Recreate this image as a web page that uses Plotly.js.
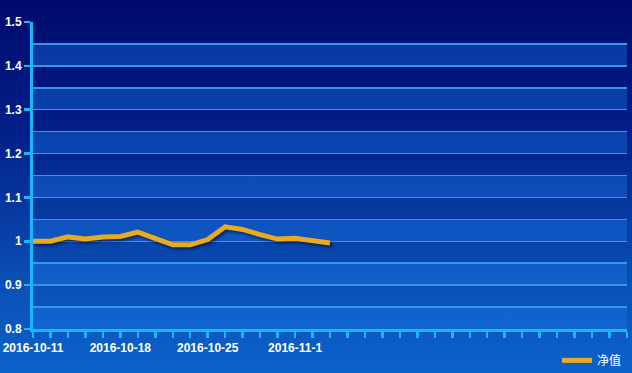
<!DOCTYPE html>
<html>
<head>
<meta charset="utf-8">
<script src="https://cdn.plot.ly/plotly-3.0.1.min.js"></script>
<style>
html,body{margin:0;padding:0;}
#chart{width:632px;height:373px;background:linear-gradient(to bottom,#000a6c 0%,#021f88 35%,#0a4fb5 75%,#0b62ca 100%);}
.scatterlayer .trace path.js-line{filter:drop-shadow(2px 2px 1.5px rgba(0,0,20,0.55));}
</style>
</head>
<body>
<div id="chart"></div>
<script>
// trading days on the axis (35 slots)
const dates = ["2016-10-11","2016-10-12","2016-10-13","2016-10-14","2016-10-17","2016-10-18","2016-10-19","2016-10-20","2016-10-21","2016-10-24","2016-10-25","2016-10-26","2016-10-27","2016-10-28","2016-10-31","2016-11-1","2016-11-2","2016-11-3","2016-11-4","2016-11-7","2016-11-8","2016-11-9","2016-11-10","2016-11-11","2016-11-14","2016-11-15","2016-11-16","2016-11-17","2016-11-18","2016-11-21","2016-11-22","2016-11-23","2016-11-24","2016-11-25","2016-11-28"];
const navValues = [1.000,1.000,1.010,1.005,1.010,1.011,1.021,1.006,0.992,0.992,1.004,1.033,1.027,1.015,1.005,1.007,1.002,0.996];
const labelDates = ["2016-10-11","2016-10-18","2016-10-25","2016-11-1"];
const seriesName = "净值";

const xIdx = navValues.map((v,i)=>i);
const tickvals = dates.map((d,i)=>i);
const ticktext = dates.map(d => labelDates.includes(d) ? d : "");

const shapes = [];
for (let k = 0; k < 7; k++) {
  const lo = 0.8 + k*0.1;
  shapes.push({type:'rect', xref:'paper', yref:'y', x0:0, x1:1, y0:lo, y1:lo+0.05,
    fillcolor:'rgba(25,120,235,0.38)', line:{width:0}, layer:'below'});
}

const trace = {
  x: xIdx, y: navValues, type:'scatter', mode:'lines', name: seriesName,
  line:{color:'#e9aa23', width:5, shape:'linear'}
};

const axisColor = '#1ab4ff';
const layout = {
  width:632, height:373,
  margin:{l:33, r:5, t:22, b:44, autoexpand:false},
  paper_bgcolor:'rgba(0,0,0,0)', plot_bgcolor:'rgba(0,0,0,0)',
  shapes: shapes,
  showlegend:true,
  legend:{orientation:'h', x:1, xanchor:'right', y:-0.055, yanchor:'top',
    font:{color:'#ffffff', size:12, family:'Noto Sans CJK SC, sans-serif'},
    bgcolor:'rgba(0,0,0,0)'},
  xaxis:{
    range:[0,34], tickmode:'array', tickvals:tickvals, ticktext:ticktext,
    showgrid:false, zeroline:false, automargin:false,
    showline:true, linecolor:axisColor, linewidth:3,
    ticks:'outside', ticklen:6, tickwidth:2.5, tickcolor:axisColor,
    tickangle:0,
    tickfont:{color:'#ffffff', size:12, family:'Liberation Sans, Arial, sans-serif', weight:'bold'},
    fixedrange:true
  },
  yaxis:{
    range:[0.8,1.5], dtick:0.1, tick0:0.8, automargin:false,
    showgrid:true, gridcolor:'#3a96ea', gridwidth:1.5,
    minor:{dtick:0.05, showgrid:true, gridcolor:'#3a96ea', gridwidth:1.5, ticks:''},
    zeroline:false,
    showline:true, linecolor:axisColor, linewidth:3,
    ticks:'outside', ticklen:6, tickwidth:2.5, tickcolor:axisColor,
    tickfont:{color:'#ffffff', size:12, family:'Liberation Sans, Arial, sans-serif', weight:'bold'},
    fixedrange:true
  }
};

Plotly.newPlot('chart', [trace], layout, {displayModeBar:false, staticPlot:true});
</script>
</body>
</html>
